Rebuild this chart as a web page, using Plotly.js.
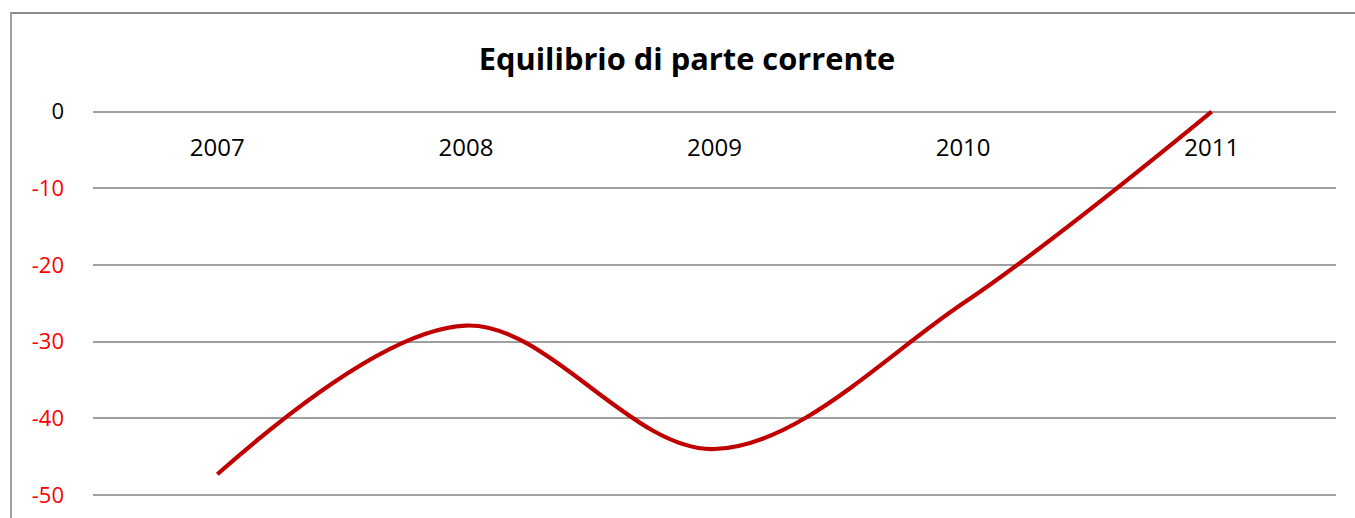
<!DOCTYPE html>
<html>
<head>
<meta charset="utf-8">
<script src="https://cdn.plot.ly/plotly-3.0.1.min.js"></script>
<style>
html,body{margin:0;padding:0;background:#fff;overflow:hidden;}
#frame{position:absolute;left:10px;top:12px;width:1400px;height:600px;border-left:2px solid #a0a0a0;border-top:2px solid #8c8c8c;pointer-events:none;z-index:5;}
#chart{width:1355px;height:518px;}
</style>
</head>
<body>
<div id="frame"></div>
<div id="chart"></div>
<script>
const years = ['2007', '2008', '2009', '2010', '2011'];
const values = [-47.3, -27.9, -44.0, -25.0, 0];
const yTickVals = [0, -10, -20, -30, -40, -50];
const yTickText = ['<span style="color:#000000">0</span>', '-10', '-20', '-30', '-40', '-50'];
const yRange = [-53, 1];

const trace = {
  x: years,
  y: values,
  type: 'scatter',
  mode: 'lines',
  line: {color: '#c00000', width: 4.2, shape: 'spline', smoothing: 1},
  hoverinfo: 'x+y'
};

const xAxisPos = (0 - yRange[0]) / (yRange[1] - yRange[0]);

const layout = {
  width: 1355,
  height: 518,
  paper_bgcolor: '#ffffff',
  plot_bgcolor: '#ffffff',
  margin: {l: 93, r: 19, t: 104, b: 0},
  showlegend: false,
  title: {
    text: '<b>Equilibrio di parte corrente</b>',
    font: {family: 'Open Sans, sans-serif', size: 30.8, color: '#000000'},
    x: 0.507, xanchor: 'center',
    y: 0.885, yanchor: 'middle'
  },
  xaxis: {
    type: 'category',
    range: [-0.5, 4.5],
    side: 'bottom',
    anchor: 'free',
    position: xAxisPos,
    ticklabelstandoff: 19,
    showgrid: false,
    zeroline: false,
    showline: false,
    ticks: '',
    tickfont: {family: 'Open Sans, sans-serif', size: 24, color: '#000000'}
  },
  yaxis: {
    range: yRange,
    tickvals: yTickVals,
    ticktext: yTickText,
    showgrid: true,
    gridcolor: '#a0a0a0',
    gridwidth: 1.8,
    zeroline: false,
    showline: false,
    ticks: '',
    ticklabelstandoff: 28,
    tickfont: {family: 'Open Sans, sans-serif', size: 22, color: '#ff0000'}
  }
};

Plotly.newPlot('chart', [trace], layout, {displayModeBar: false, staticPlot: true});
</script>
</body>
</html>
